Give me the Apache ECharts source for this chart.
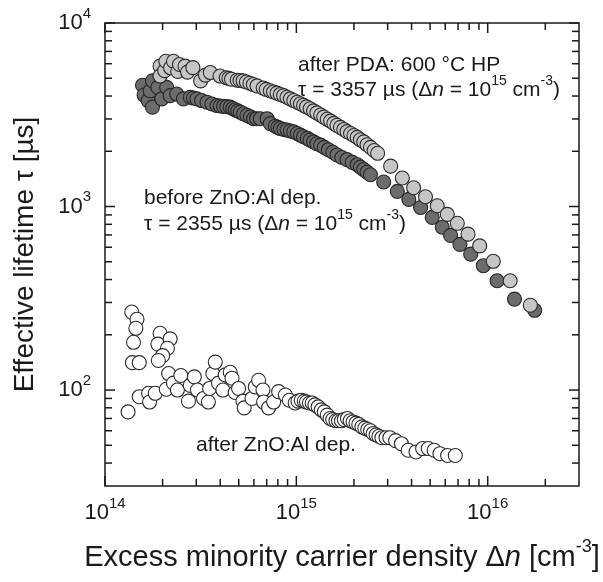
<!DOCTYPE html>
<html><head><meta charset="utf-8">
<script src="https://cdn.jsdelivr.net/npm/echarts@6/dist/echarts.min.js"></script>
<style>html,body{margin:0;padding:0;background:#fff}#c{width:603px;height:582px}</style>
</head><body><div id="c"></div>
<script>
// ---- data: [Δn (cm^-3), τ (µs)] ----
const afterPDA = [
 [1.94e14,5820],[1.94e14,5140],[2.05e14,5500],[2.08e14,6190],[2.2e14,5700],[2.28e14,6190],[2.4e14,5450],
 [2.45e14,5940],[2.62e14,5820],[2.7e14,5400],[2.88e14,5710],[3.16e14,4840],[3.35e14,5200],[3.55e14,5370],
 [3.99e14,5140],[4.30e14,5030],[4.44e14,4990],[4.58e14,4940],[4.91e14,4880],[5.08e14,4860],[5.27e14,4840],
 [5.48e14,4770],[5.72e14,4700],[5.96e14,4620],[6.23e14,4545],[6.71e14,4420],[6.96e14,4350],[7.31e14,4270],
 [7.60e14,4210],[7.92e14,4150],[8.24e14,4080],[8.58e14,4020],[8.93e14,3940],[9.30e14,3860],[9.70e14,3780],
 [1.01e15,3700],[1.05e15,3630],[1.09e15,3560],[1.13e15,3490],[1.18e15,3410],[1.23e15,3320],[1.28e15,3240],
 [1.34e15,3150],[1.39e15,3070],[1.45e15,2990],[1.51e15,2920],[1.57e15,2840],[1.63e15,2770],[1.70e15,2700],
 [1.77e15,2630],[1.84e15,2560],[1.92e15,2500],[2.00e15,2440],[2.08e15,2380],[2.16e15,2310],[2.25e15,2250],
 [2.34e15,2170],[2.44e15,2100],[2.55e15,2020],[2.66e15,1950],[3.11e15,1660],[3.58e15,1430],[4.10e15,1265],
 [4.73e15,1130],[5.45e15,1010],[6.15e15,906],[6.94e15,810],[7.89e15,707],[9.08e15,610],[1.07e16,503],
 [1.31e16,394],[1.67e16,290]
];
const beforeZnO = [
 [1.57e14,4580],[1.60e14,4050],[1.68e14,3780],[1.72e14,4270],[1.77e14,3480],[1.77e14,4840],[1.89e14,4460],
 [1.98e14,3860],[2.10e14,4460],[2.19e14,4020],[2.37e14,4100],[2.57e14,3860],[2.79e14,3940],[2.90e14,3900],
 [3.02e14,3860],[3.20e14,3780],[3.41e14,3700],[3.62e14,3620],[3.85e14,3550],[4.00e14,3530],[4.16e14,3510],
 [4.33e14,3500],[4.51e14,3480],[4.65e14,3420],[4.79e14,3365],[4.94e14,3320],[5.09e14,3270],[5.30e14,3200],
 [5.52e14,3140],[5.75e14,3080],[5.98e14,3010],[6.20e14,3010],[6.48e14,3010],[7.03e14,3010],[7.31e14,2830],
 [7.76e14,2740],[8.00e14,2700],[8.25e14,2660],[8.60e14,2630],[8.94e14,2610],[9.30e14,2580],[9.68e14,2550],
 [1.01e15,2500],[1.05e15,2450],[1.09e15,2400],[1.14e15,2350],[1.18e15,2300],[1.23e15,2250],[1.28e15,2200],
 [1.34e15,2160],[1.40e15,2100],[1.47e15,2040],[1.55e15,1975],[1.63e15,1910],[1.73e15,1850],[1.84e15,1800],
 [1.96e15,1740],[2.08e15,1690],[2.16e15,1640],[2.25e15,1590],[2.34e15,1540],[2.44e15,1490],[2.86e15,1360],
 [3.37e15,1210],[3.87e15,1094],[4.46e15,988],[5.13e15,873],[5.79e15,771],[6.40e15,696],[7.16e15,622],
 [8.15e15,550],[9.49e15,476],[1.12e16,394],[1.38e16,313],[1.76e16,272]
];
const afterZnO = [
 [1.32e14,76],[1.38e14,266],[1.47e14,243],[1.45e14,217],[1.41e14,182],[1.39e14,141],[1.51e14,141],[1.51e14,92],
 [1.69e14,96],[1.71e14,86],[1.83e14,96],[1.94e14,204],[1.89e14,178],[2.19e14,190],[2.12e14,169],[2.0e14,154],
 [1.90e14,145],[2.09e14,101],[2.15e14,123],[2.28e14,109],[2.39e14,100],[2.49e14,120],[2.73e14,87],[2.79e14,106],
 [2.93e14,118],[3.04e14,100],[3.27e14,90],[3.47e14,86],[3.52e14,102],[3.66e14,123],[3.77e14,142],[3.92e14,109],
 [4.13e14,100],[4.25e14,121],[4.51e14,125],[4.61e14,116],[4.79e14,97],[4.99e14,102],[5.26e14,87],[5.34e14,80],
 [5.86e14,90],[6.10e14,104],[6.35e14,113],[6.69e14,100],[6.74e14,86],[7.16e14,80],[7.61e14,86],[8.08e14,98],
 [8.76e14,94],[9.19e14,88],[9.86e14,85],[1.02e15,87],[1.06e15,88],[1.10e15,87],[1.13e15,86],[1.17e15,85],
 [1.21e15,85],[1.25e15,83],[1.30e15,81],[1.35e15,78],[1.40e15,76],[1.45e15,73],[1.50e15,70],[1.55e15,69],
 [1.61e15,68],[1.66e15,68],[1.72e15,68],[1.78e15,69],[1.85e15,70],[1.91e15,68],[1.98e15,67],[2.05e15,66],
 [2.12e15,65],[2.20e15,63],[2.28e15,62],[2.36e15,61],[2.44e15,60],[2.52e15,58],[2.61e15,57],[2.70e15,56],
 [2.80e15,55],[2.94e15,55],[3.08e15,55],[3.30e15,53],[3.54e15,51],[3.84e15,47],[4.22e15,46],[4.57e15,48],
 [4.89e15,48],[5.25e15,47],[5.63e15,45],[6.17e15,44],[6.77e15,44]
];
const xMajorTicks = [1e14,1e15,1e16];
const xMinorTicks = [2e14,3e14,4e14,5e14,6e14,7e14,8e14,9e14,2e15,3e15,4e15,5e15,6e15,7e15,8e15,9e15,2e16];
const yMajorTicks = [1e2,1e3,1e4];
const yMinorTicks = [40,50,60,70,80,90,200,300,400,500,600,700,800,900,2000,3000,4000,5000,6000,7000,8000,9000];
const X_MIN = 1e14, X_MAX = 3e16, Y_MIN = 30, Y_MAX = 1e4;

const FONT = 'Liberation Sans, Arial, sans-serif';
const INK = '#1a1a1a';

const tickData = [];
xMajorTicks.forEach(v => tickData.push([v, Y_MIN, 0]));
xMinorTicks.forEach(v => tickData.push([v, Y_MIN, 1]));
yMajorTicks.forEach(v => tickData.push([X_MIN, v, 2]));
yMinorTicks.forEach(v => tickData.push([X_MIN, v, 3]));

function renderTick(params, api) {
  const kind = api.value(2);
  const p = api.coord([api.value(0), api.value(1)]);
  const cs = params.coordSys;
  const L = (kind === 0 || kind === 2) ? 10 : 7;
  const st = {stroke: INK, lineWidth: 1.5};
  if (kind < 2) {
    const x = p[0];
    return {type: 'group', children: [
      {type: 'line', shape: {x1: x, y1: cs.y + cs.height, x2: x, y2: cs.y + cs.height - L}, style: st},
      {type: 'line', shape: {x1: x, y1: cs.y, x2: x, y2: cs.y + L}, style: st}
    ]};
  }
  const y = p[1];
  return {type: 'group', children: [
    {type: 'line', shape: {x1: cs.x, y1: y, x2: cs.x + L, y2: y}, style: st},
    {type: 'line', shape: {x1: cs.x + cs.width, y1: y, x2: cs.x + cs.width - L, y2: y}, style: st}
  ]};
}

function powLabel(v) {
  const lg = Math.log10(v), e = Math.round(lg);
  if (Math.abs(lg - e) > 1e-6) return '';
  return '{b|10}{sup|' + e + '}';
}
const tickRich = {
  b: {fontSize: 22, fontFamily: FONT, color: INK, lineHeight: 34},
  sup: {fontSize: 15, fontFamily: FONT, color: INK, lineHeight: 15, verticalAlign: 'top'}
};

const annRich = {
  i: {fontSize: 21, fontFamily: FONT, fontStyle: 'italic', fill: INK, lineHeight: 31},
  sup: {fontSize: 14, fontFamily: FONT, fill: INK, lineHeight: 14, verticalAlign: 'top'}
};
function ann(x, y, text) {
  return {type: 'text', x: x, y: y, silent: true, z: 10,
    style: {text: text, fontSize: 21, fontFamily: FONT, fill: INK, lineHeight: 31,
      align: 'left', verticalAlign: 'middle', rich: annRich}};
}

const chart = echarts.init(document.getElementById('c'), null, {renderer: 'canvas'});
chart.setOption({
  backgroundColor: '#fff',
  animation: false,
  grid: {left: 105, right: 24, top: 23, bottom: 89, show: true, borderColor: INK, borderWidth: 1.5, backgroundColor: 'transparent'},
  xAxis: {
    type: 'log', logBase: 10, min: X_MIN, max: X_MAX,
    axisLine: {show: false}, axisTick: {show: false}, splitLine: {show: false}, minorTick: {show: false},
    axisLabel: {formatter: powLabel, rich: tickRich, margin: 10, showMinLabel: true, showMaxLabel: true},
    name: 'Excess minority carrier density Δ{i|n} [cm{sup|-3}]',
    nameLocation: 'middle', nameGap: 52,
    nameTextStyle: {fontSize: 29, fontFamily: FONT, color: INK, lineHeight: 39,
      rich: {
        i: {fontSize: 29, fontFamily: FONT, fontStyle: 'italic', color: INK, lineHeight: 39},
        sup: {fontSize: 18, fontFamily: FONT, color: INK, lineHeight: 18, verticalAlign: 'top'}
      }}
  },
  yAxis: {
    type: 'log', logBase: 10, min: Y_MIN, max: Y_MAX,
    axisLine: {show: false}, axisTick: {show: false}, splitLine: {show: false}, minorTick: {show: false},
    axisLabel: {formatter: powLabel, rich: tickRich, margin: 14, showMinLabel: true, showMaxLabel: true},
    name: 'Effective lifetime τ [µs]',
    nameLocation: 'middle', nameGap: 66, nameRotate: 90,
    nameTextStyle: {fontSize: 28, fontFamily: FONT, color: INK}
  },
  series: [
    {type: 'scatter', name: 'after ZnO:Al dep.', data: afterZnO, symbol: 'circle', symbolSize: 14,
      itemStyle: {color: '#ffffff', borderColor: '#2a2a2a', borderWidth: 1.1, opacity: 1}, z: 2, silent: true},
    {type: 'scatter', name: 'before ZnO:Al dep.', data: beforeZnO, symbol: 'circle', symbolSize: 14,
      itemStyle: {color: '#6c6c6c', borderColor: '#262626', borderWidth: 1.1, opacity: 1}, z: 3, silent: true},
    {type: 'scatter', name: 'after PDA: 600 °C HP', data: afterPDA, symbol: 'circle', symbolSize: 14,
      itemStyle: {color: '#c6c6c6', borderColor: '#2a2a2a', borderWidth: 1.1, opacity: 1}, z: 4, silent: true},
    {type: 'custom', data: tickData, renderItem: renderTick, encode: {x: 0, y: 1}, silent: true, z: 6, clip: false}
  ],
  graphic: [
    ann(298, 65, 'after PDA: 600 °C HP'),
    ann(298, 90, 'τ = 3357 µs (Δ{i|n} = 10{sup|15} cm{sup|-3})'),
    ann(144, 198, 'before ZnO:Al dep.'),
    ann(144, 224, 'τ = 2355 µs (Δ{i|n} = 10{sup|15} cm{sup|-3})'),
    ann(196, 445, 'after ZnO:Al dep.')
  ]
});
</script></body></html>
